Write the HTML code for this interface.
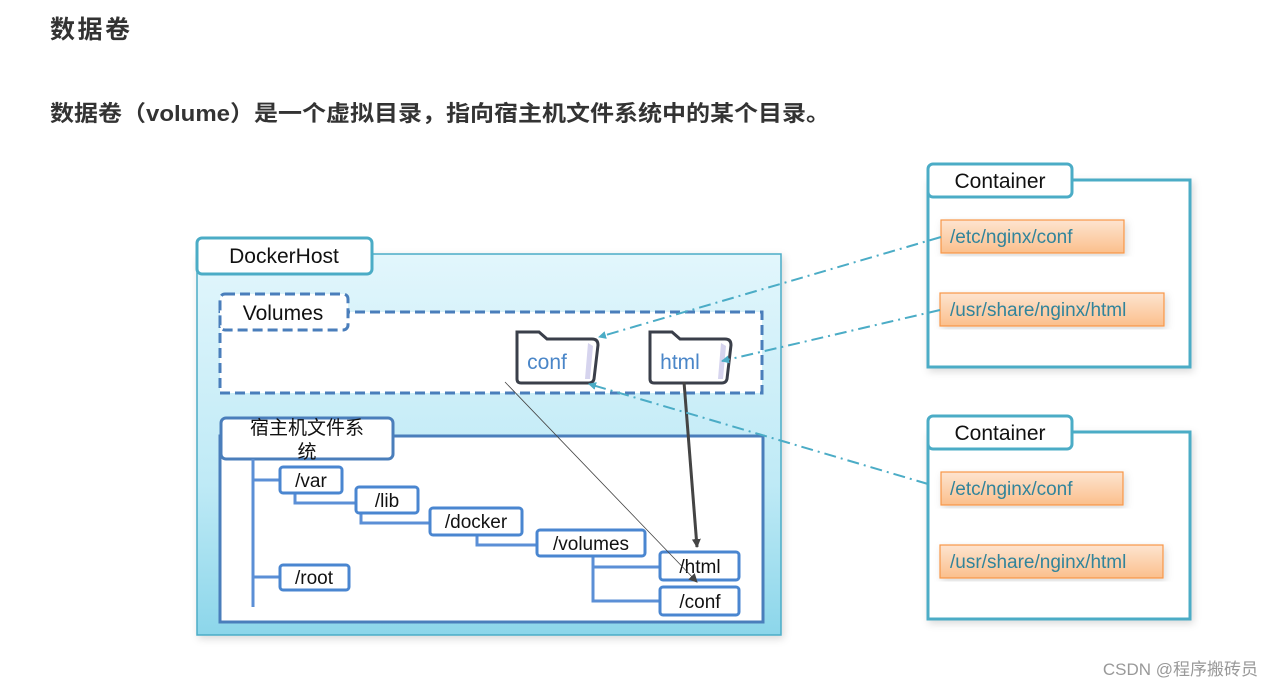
<!DOCTYPE html>
<html><head><meta charset="utf-8"><style>
body{margin:0;width:1274px;height:689px;background:#fff;overflow:hidden;font-family:"Liberation Sans","Noto Sans CJK SC",sans-serif}
</style></head><body>
<svg width="1274" height="689" xmlns="http://www.w3.org/2000/svg" style="position:absolute;left:0;top:0">
<defs>
<linearGradient id="dh" x1="0" y1="0" x2="0" y2="1"><stop offset="0" stop-color="#e2f6fc"/><stop offset="0.6" stop-color="#bfeaf6"/><stop offset="1" stop-color="#8cd6ea"/></linearGradient>
<linearGradient id="or" x1="0" y1="0" x2="0" y2="1"><stop offset="0" stop-color="#fde4d0"/><stop offset="1" stop-color="#fbbf8c"/></linearGradient>
<marker id="ab" markerWidth="8" markerHeight="8" refX="7" refY="4" orient="auto" markerUnits="userSpaceOnUse"><path d="M0,0 L8,4 L0,8 z" fill="#4bacc6"/></marker>
<marker id="ag" markerWidth="9" markerHeight="9" refX="8" refY="4.5" orient="auto" markerUnits="userSpaceOnUse"><path d="M0,0 L9,4.5 L0,9 z" fill="#444"/></marker>
<filter id="sh"><feDropShadow dx="2" dy="3" stdDeviation="4" flood-color="#000" flood-opacity="0.15"/></filter>
</defs>
<text x="50" y="38" font-size="25" font-weight="bold" fill="#333" textLength="80">数据卷</text>
<text x="50" y="121" font-size="22" font-weight="bold" fill="#333" textLength="780" lengthAdjust="spacingAndGlyphs">数据卷（volume）是一个虚拟目录，指向宿主机文件系统中的某个目录。</text>

<!-- DockerHost -->
<rect x="197" y="254" width="584" height="381" fill="url(#dh)" stroke="#4bacc6" stroke-width="1.5" filter="url(#sh)"/>
<rect x="197" y="238" width="175" height="36" rx="5" fill="#fff" stroke="#4bacc6" stroke-width="3"/>
<text x="284" y="263" font-size="21" text-anchor="middle" fill="#111">DockerHost</text>

<!-- Volumes -->
<rect x="220" y="312" width="542" height="81" fill="#fff" stroke="#4a7ebb" stroke-width="3" stroke-dasharray="10,5"/>
<rect x="220" y="294" width="128" height="36" rx="5" fill="#fff" stroke="#4a7ebb" stroke-width="3" stroke-dasharray="10,5"/>
<text x="283" y="320" font-size="21" text-anchor="middle" fill="#111">Volumes</text>

<!-- folders -->
<g stroke="#3a3f4a" stroke-width="3" fill="#fff">
<path d="M517,332 h22 l8,7 h45 q6,0 6,6 l-4,34 q-1,4 -5,4 h-68 q-4,0 -4,-4 z"/>
<path d="M650,332 h22 l8,7 h45 q6,0 6,6 l-4,34 q-1,4 -5,4 h-68 q-4,0 -4,-4 z"/>
</g>
<path d="M588,343 l5,3 -3,33 -5,0 z" fill="#d6d4ee"/>
<path d="M721,343 l5,3 -3,33 -5,0 z" fill="#d6d4ee"/>
<text x="547" y="369" font-size="21" text-anchor="middle" fill="#4a86c8">conf</text>
<text x="680" y="369" font-size="21" text-anchor="middle" fill="#4a86c8">html</text>

<!-- host fs -->
<rect x="220" y="436" width="543" height="186" fill="#fff" stroke="#4a7ebb" stroke-width="3"/>
<rect x="221" y="418" width="172" height="41" rx="5" fill="#fff" stroke="#4a7ebb" stroke-width="3"/>
<text x="307" y="434" font-size="19" text-anchor="middle" fill="#111">宿主机文件系</text>
<text x="307" y="458" font-size="19" text-anchor="middle" fill="#111">统</text>

<g stroke="#5b8fd6" stroke-width="3" fill="none">
<path d="M253,459 V607"/>
<path d="M253,480 H280"/><path d="M253,577 H280"/>
<path d="M295,493 V503 H356"/>
<path d="M361,513 V523 H430"/>
<path d="M477,535 V545 H537"/>
<path d="M593,556 V601 H660 M593,567 H660"/>
</g>
<g stroke="#4a86d0" stroke-width="3" fill="#fff">
<rect x="280" y="467" width="62" height="26" rx="3"/>
<rect x="356" y="487" width="62" height="26" rx="3"/>
<rect x="430" y="508" width="92" height="27" rx="3"/>
<rect x="537" y="530" width="108" height="26" rx="3"/>
<rect x="660" y="552" width="79" height="28" rx="3"/>
<rect x="660" y="587" width="79" height="28" rx="3"/>
<rect x="280" y="565" width="69" height="25" rx="3"/>
</g>
<g font-size="19" fill="#111" text-anchor="middle">
<text x="311" y="487">/var</text>
<text x="387" y="507">/lib</text>
<text x="476" y="528">/docker</text>
<text x="591" y="550">/volumes</text>
<text x="700" y="573">/html</text>
<text x="700" y="608">/conf</text>
<text x="314" y="584">/root</text>
</g>
<line x1="505" y1="382" x2="697" y2="582" stroke="#444" stroke-width="0.8" marker-end="url(#ag)"/>
<line x1="684" y1="382" x2="697" y2="547" stroke="#444" stroke-width="3" marker-end="url(#ag)"/>

<!-- Containers -->
<g>
<rect x="928" y="180" width="262" height="187" fill="#fff" stroke="#4bacc6" stroke-width="3" filter="url(#sh)"/>
<rect x="928" y="164" width="144" height="33" rx="5" fill="#fff" stroke="#4bacc6" stroke-width="3"/>
<text x="1000" y="188" font-size="21" text-anchor="middle" fill="#111">Container</text>
<rect x="941" y="220" width="183" height="33" fill="url(#or)" stroke="#f79646" stroke-width="1.2" filter="url(#sh)"/>
<text x="950" y="243" font-size="19" fill="#31849b">/etc/nginx/conf</text>
<rect x="940" y="293" width="224" height="33" fill="url(#or)" stroke="#f79646" stroke-width="1.2" filter="url(#sh)"/>
<text x="950" y="316" font-size="19" fill="#31849b">/usr/share/nginx/html</text>
</g>
<g>
<rect x="928" y="432" width="262" height="187" fill="#fff" stroke="#4bacc6" stroke-width="3" filter="url(#sh)"/>
<rect x="928" y="416" width="144" height="33" rx="5" fill="#fff" stroke="#4bacc6" stroke-width="3"/>
<text x="1000" y="440" font-size="21" text-anchor="middle" fill="#111">Container</text>
<rect x="941" y="472" width="182" height="33" fill="url(#or)" stroke="#f79646" stroke-width="1.2" filter="url(#sh)"/>
<text x="950" y="495" font-size="19" fill="#31849b">/etc/nginx/conf</text>
<rect x="940" y="545" width="223" height="33" fill="url(#or)" stroke="#f79646" stroke-width="1.2" filter="url(#sh)"/>
<text x="950" y="568" font-size="19" fill="#31849b">/usr/share/nginx/html</text>
</g>
<g stroke="#4bacc6" stroke-width="2" stroke-dasharray="12,5,2,5" fill="none">
<line x1="941" y1="237" x2="599" y2="337" marker-end="url(#ab)"/>
<line x1="940" y1="310" x2="722" y2="361" marker-end="url(#ab)"/>
<line x1="928" y1="484" x2="589" y2="384" marker-end="url(#ab)"/>
</g>
<text x="1258" y="675" font-size="17" text-anchor="end" fill="#999">CSDN @程序搬砖员</text>
</svg>
</body></html>
